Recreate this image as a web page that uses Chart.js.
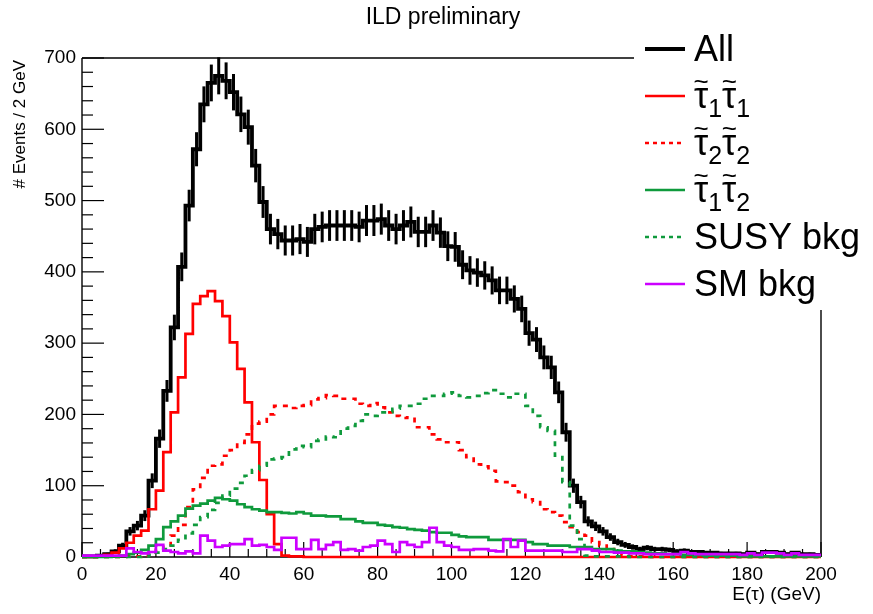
<!DOCTYPE html>
<html>
<head>
<meta charset="utf-8">
<script src="https://cdn.jsdelivr.net/npm/chart.js@4.4.1/dist/chart.umd.min.js"></script>
<style>
  html, body { margin: 0; padding: 0; background: #fff; }
  canvas { display: block; }
</style>
</head>
<body>
<canvas id="c" width="873" height="614"></canvas>
<script>
// --- histogram: 100 bins of 2 GeV from 0 to 200 ---
const binEdgesFrom = 0;
const binWidth = 2;

// "All" (black, with error bars)
const allEvents = [
  1, 1, 2, 4, 8, 16, 36, 44, 58, 107,
  166, 233, 322, 407, 493, 572, 635, 665, 675, 668,
  652, 621, 603, 549, 498, 460, 453, 444, 444, 446,
  442, 460, 463, 465, 465, 465, 465, 463, 472, 472,
  474, 465, 460, 465, 470, 456, 456, 465, 455, 436,
  435, 410, 402, 399, 395, 388, 374, 374, 362, 348,
  314, 305, 280, 266, 231, 175, 100, 77, 50, 43,
  36, 28, 21, 17, 14, 11, 13, 11, 11, 10,
  8, 9, 7, 7, 6, 6, 5, 5, 5, 4,
  6, 4, 7, 7, 6, 4, 6, 4, 4, 3
];
// stau1 stau1 (red solid)
const stau11 = [
  0, 0, 1, 3, 6, 12, 20, 30, 37, 67,
  93, 147, 203, 252, 313, 355, 366, 373, 359, 338,
  301, 264, 217, 161, 108, 60, 18, 2, 1, 1,
  0, 0, 0, 0, 0, 0, 0, 0, 0, 0,
  0, 0, 0, 0, 0, 0, 0, 0, 0, 0,
  0, 0, 0, 0, 0, 0, 0, 0, 0, 0,
  0, 0, 0, 0, 0, 0, 0, 0, 0, 0,
  0, 0, 0, 0, 0, 0, 0, 0, 0, 0,
  0, 0, 0, 0, 0, 0, 0, 0, 0, 0,
  0, 0, 0, 0, 0, 0, 0, 0, 0, 0
];
// stau2 stau2 (red dashed)
const stau22 = [
  0, 0, 0, 0, 0, 0, 1, 1, 2, 4,
  10, 16, 30, 45, 70, 95, 111, 128, 130, 142,
  150, 160, 172, 187, 190, 200, 212, 212, 209, 212,
  213, 221, 223, 227, 226, 222, 222, 215, 212, 216,
  210, 203, 198, 195, 196, 182, 182, 172, 165, 161,
  161, 150, 140, 130, 127, 121, 106, 105, 100, 91,
  81, 77, 67, 63, 58, 49, 42, 35, 30, 21,
  16, 11, 7, 2, 1, 1, 1, 0, 0, 0,
  0, 0, 0, 0, 0, 0, 0, 0, 0, 0,
  0, 0, 0, 0, 0, 0, 0, 0, 0, 0
];
// stau1 stau2 (green solid)
const stau12 = [
  0, 0, 0, 0, 1, 2, 4, 6, 10, 16,
  25, 42, 50, 58, 68, 72, 75, 79, 83, 81,
  79, 74, 70, 67, 65, 63, 63, 62, 61, 63,
  61, 58, 58, 57, 57, 53, 53, 50, 48, 48,
  45, 44, 42, 41, 39, 38, 37, 35, 34, 34,
  31, 29, 28, 28, 28, 24, 24, 24, 24, 24,
  21, 18, 18, 16, 16, 16, 14, 14, 14, 11,
  11, 11, 9, 8, 8, 7, 6, 5, 5, 4,
  4, 3, 3, 3, 2, 2, 2, 2, 2, 1,
  1, 1, 1, 1, 1, 1, 1, 1, 1, 1
];
// SUSY background (green dashed)
const susyBkg = [
  0, 0, 0, 0, 0, 0, 0, 0, 1, 3,
  6, 11, 16, 24, 33, 45, 56, 66, 76, 86,
  96, 104, 114, 122, 128, 137, 138, 140, 151, 156,
  154, 163, 165, 169, 168, 180, 184, 191, 200, 198,
  203, 203, 208, 212, 212, 215, 222, 226, 226, 229,
  231, 226, 224, 226, 230, 234, 229, 224, 229, 229,
  212, 198, 182, 177, 142, 105, 44, 25, 2, 1,
  1, 1, 1, 1, 0, 0, 0, 0, 0, 0,
  0, 0, 0, 0, 0, 0, 0, 0, 0, 0,
  0, 0, 0, 0, 0, 0, 0, 0, 0, 0
];
// SM background (magenta)
const smBkg = [
  2, 2, 2, 2, 2, 2, 12, 7, 5, 7,
  17, 9, 7, 5, 8, 5, 30, 23, 14, 16,
  18, 18, 25, 16, 17, 14, 10, 27, 27, 11,
  11, 24, 11, 17, 21, 10, 11, 9, 14, 16,
  23, 18, 7, 21, 17, 14, 21, 41, 21, 16,
  14, 10, 10, 11, 11, 9, 8, 25, 14, 23,
  9, 9, 9, 9, 9, 7, 7, 11, 11, 9,
  7, 7, 6, 6, 5, 5, 4, 4, 4, 4,
  4, 7, 5, 4, 4, 4, 4, 4, 4, 3,
  5, 3, 6, 6, 5, 3, 5, 3, 3, 3
];

const legendLabels = ['All', 'τ̃₁τ̃₁', 'τ̃₂τ̃₂', 'τ̃₁τ̃₂', 'SUSY bkg', 'SM bkg'];
const xTicks = [0, 20, 40, 60, 80, 100, 120, 140, 160, 180, 200];
const yTicks = [0, 100, 200, 300, 400, 500, 600, 700];

const FONT = '"Liberation Sans", Arial, Helvetica, sans-serif';
const GREEN = '#0f9a3c';
const MAGENTA = '#cc00ff';

// style per series (same order as legend)
const seriesList = [
  { values: allEvents, color: '#000', width: 3.8, dash: [], legendWidth: 4 },
  { values: stau11, color: '#ff0000', width: 2.7, dash: [], legendWidth: 2.5 },
  { values: stau22, color: '#ff0000', width: 2.7, dash: [5, 6], legendWidth: 2.5 },
  { values: stau12, color: GREEN, width: 2.7, dash: [], legendWidth: 2.5 },
  { values: susyBkg, color: GREEN, width: 2.7, dash: [5, 6], legendWidth: 2.5 },
  { values: smBkg, color: MAGENTA, width: 2.7, dash: [], legendWidth: 2.5 }
];

// one point per lower bin edge, plus the closing upper edge
function toSteps(values) {
  const pts = values.map((v, i) => ({ x: binEdgesFrom + i * binWidth, y: v }));
  pts.push({ x: binEdgesFrom + values.length * binWidth, y: values[values.length - 1] });
  return pts;
}

function line(ctx, x1, y1, x2, y2) {
  ctx.beginPath(); ctx.moveTo(x1, y1); ctx.lineTo(x2, y2); ctx.stroke();
}

// legend label: τ + combining tilde + subscript digits
function drawLabel(ctx, text, x, baseline) {
  const big = 36, sub = 25;
  let cx = x, lastW = 0;
  for (const ch of text) {
    if (ch === '\u0303') {
      ctx.save();
      ctx.font = `26px ${FONT}`;
      ctx.textAlign = 'center';
      ctx.fillText('~', cx - lastW / 2, baseline - 18);
      ctx.restore();
    } else if (ch === '₁' || ch === '₂') {
      ctx.font = `${sub}px ${FONT}`;
      const d = ch === '₁' ? '1' : '2';
      ctx.fillText(d, cx, baseline + 9);
      lastW = ctx.measureText(d).width;
      cx += lastW;
    } else {
      ctx.font = `${big}px ${FONT}`;
      ctx.fillText(ch, cx, baseline);
      lastW = ctx.measureText(ch).width;
      cx += lastW;
    }
  }
}

const rootStyle = {
  id: 'rootStyle',
  beforeDatasetsDraw(chart) {
    const { ctx, chartArea: a, scales: { x, y } } = chart;
    ctx.save();
    ctx.strokeStyle = '#000';
    ctx.lineWidth = 1.4;
    // frame (top and right are cut by the legend box)
    line(ctx, a.left, a.bottom, a.right, a.bottom);
    line(ctx, a.left, a.top, a.left, a.bottom);
    line(ctx, a.left, a.top, 634, a.top);
    line(ctx, a.right, 310, a.right, a.bottom);
    // inward ticks
    ctx.lineWidth = 1.2;
    for (let v = 0; v <= 200; v += 5) {
      const px = x.getPixelForValue(v);
      line(ctx, px, a.bottom, px, a.bottom - (v % 20 === 0 ? 15 : 8));
    }
    for (let v = 0; v <= 700; v += 20) {
      const py = y.getPixelForValue(v);
      line(ctx, a.left, py, a.left + (v % 100 === 0 ? 22 : 11), py);
    }
    ctx.restore();
  },
  afterDatasetDraw(chart, args) {
    if (args.index !== 0) return;
    const { ctx, scales: { x, y } } = chart;
    ctx.save();
    ctx.strokeStyle = '#000';
    ctx.lineWidth = 3;
    allEvents.forEach((v, i) => {
      const err = Math.sqrt(v);
      const px = x.getPixelForValue(binEdgesFrom + (i + 0.5) * binWidth);
      line(ctx, px, y.getPixelForValue(v - err), px, y.getPixelForValue(v + err));
    });
    ctx.restore();
  },
  afterDraw(chart) {
    const { ctx, chartArea: a } = chart;
    ctx.save();
    ctx.fillStyle = '#000';
    // title
    ctx.font = `23px ${FONT}`;
    ctx.textAlign = 'center';
    ctx.textBaseline = 'middle';
    ctx.fillText('ILD preliminary', 443, 18);
    // x title
    ctx.font = `19px ${FONT}`;
    ctx.textAlign = 'right';
    ctx.textBaseline = 'alphabetic';
    ctx.fillText('E(τ) (GeV)', a.right, 600);
    // y title
    ctx.save();
    ctx.font = `17px ${FONT}`;
    ctx.translate(25, a.top + 2);
    ctx.rotate(-Math.PI / 2);
    ctx.textAlign = 'right';
    ctx.fillText('# Events / 2 GeV', 0, 0);
    ctx.restore();
    // legend
    ctx.textAlign = 'left';
    seriesList.forEach((s, i) => {
      const rowY = 49 + i * 47;
      ctx.strokeStyle = s.color;
      ctx.lineWidth = s.legendWidth;
      ctx.setLineDash(s.dash.length ? [4, 4] : []);
      line(ctx, 645, rowY, 685, rowY);
      ctx.setLineDash([]);
      ctx.fillStyle = '#000';
      drawLabel(ctx, legendLabels[i], 694, rowY + 12);
    });
    ctx.restore();
  }
};

new Chart(document.getElementById('c'), {
  type: 'line',
  data: {
    datasets: seriesList.map((s, i) => ({
      label: legendLabels[i],
      data: toSteps(s.values),
      borderColor: s.color,
      borderWidth: s.width,
      borderDash: s.dash,
      borderCapStyle: 'butt',
      borderJoinStyle: 'miter',
      stepped: 'before',
      fill: false,
      pointRadius: 0,
      clip: false,
      order: seriesList.length - i
    }))
  },
  options: {
    responsive: false,
    animation: false,
    devicePixelRatio: 1,
    layout: { padding: { top: 58, right: 52, left: 0, bottom: 0 } },
    plugins: { legend: { display: false }, tooltip: { enabled: false }, title: { display: false } },
    scales: {
      x: {
        type: 'linear', min: 0, max: 200,
        afterFit: s => { s.height = 57; },
        afterBuildTicks: s => { s.ticks = xTicks.map(v => ({ value: v })); },
        grid: { display: false, drawTicks: false }, border: { display: false },
        ticks: { color: '#000', font: { family: FONT, size: 19 }, padding: 6, maxRotation: 0, autoSkip: false }
      },
      y: {
        type: 'linear', min: 0, max: 700,
        afterFit: s => { s.width = 82; },
        afterBuildTicks: s => { s.ticks = yTicks.map(v => ({ value: v })); },
        grid: { display: false, drawTicks: false }, border: { display: false },
        ticks: { color: '#000', font: { family: FONT, size: 19 }, padding: 6, autoSkip: false }
      }
    }
  },
  plugins: [rootStyle]
});
</script>
</body>
</html>
